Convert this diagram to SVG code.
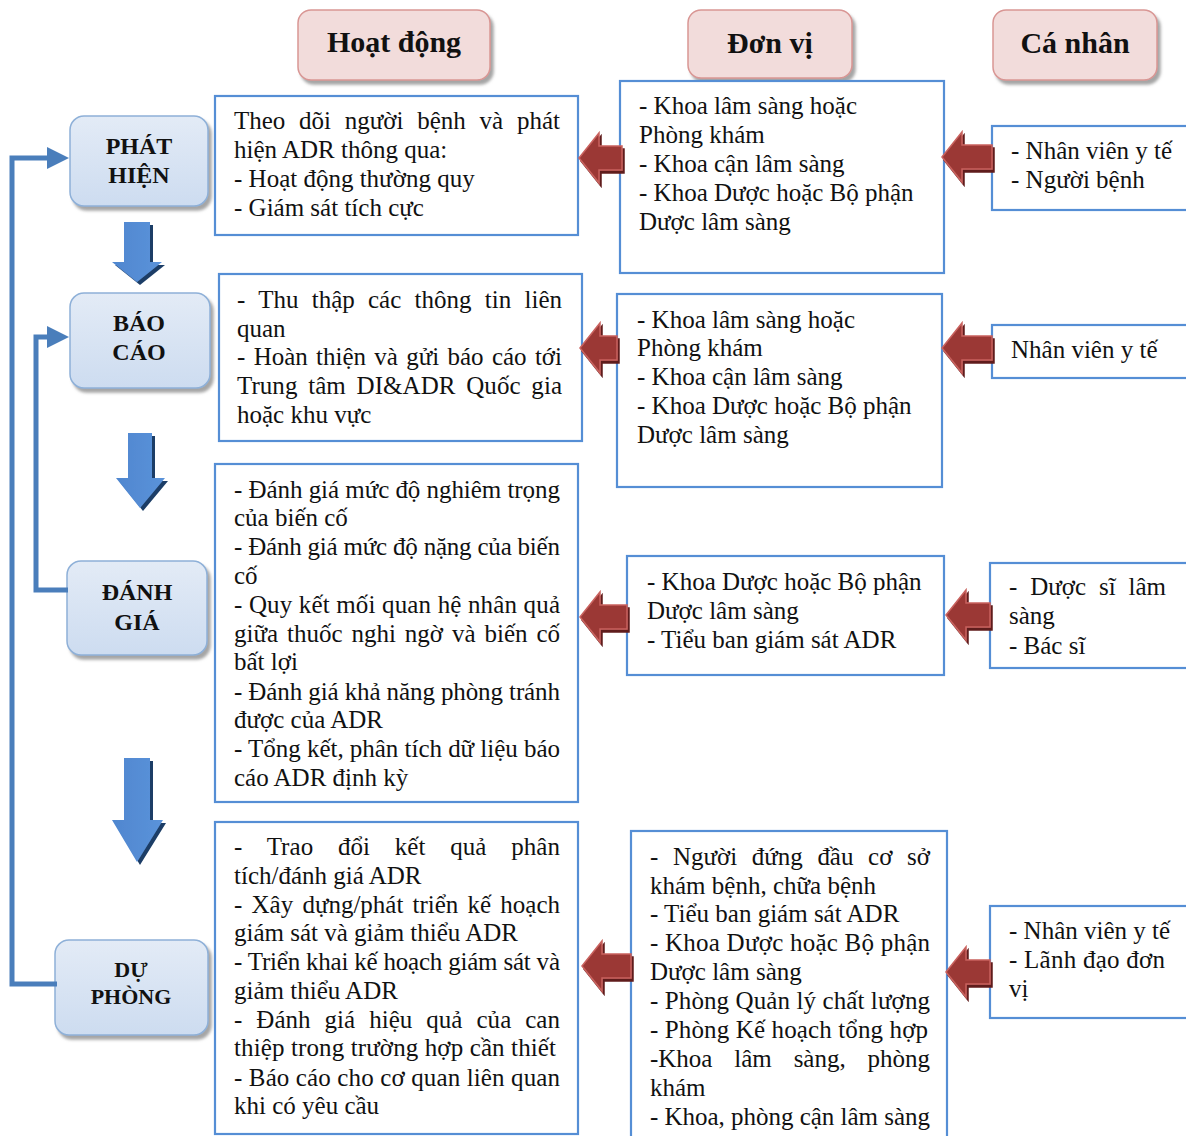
<svg xmlns="http://www.w3.org/2000/svg" width="1186" height="1136" viewBox="0 0 1186 1136">
<defs>
<style>
.t{font-family:"Liberation Serif","Times New Roman",serif;font-size:25px;fill:#111}
.hd{font-family:"Liberation Serif","Times New Roman",serif;font-size:30px;font-weight:bold;fill:#111;text-anchor:middle}
.st{font-family:"Liberation Serif","Times New Roman",serif;font-size:24px;font-weight:bold;fill:#111;text-anchor:middle}
.box{fill:#ffffff;stroke:#558ed5;stroke-width:2.2}
.head{fill:#f2dcdb;stroke:#d99694;stroke-width:1.5}
.stage{fill:url(#gStage);stroke:#8eb0d8;stroke-width:1.5}
.red{fill:#9b3936;stroke:#c9625e;stroke-width:1.5}
.blue{fill:url(#gBlue)}
.fb{fill:none;stroke:#4a7ebb;stroke-width:5}
</style>
<linearGradient id="gStage" x1="0" y1="0" x2="0" y2="1">
<stop offset="0" stop-color="#e3ebf6"/>
<stop offset="1" stop-color="#cddcf0"/>
</linearGradient>
<linearGradient id="gBlue" x1="0" y1="0" x2="1" y2="0">
<stop offset="0" stop-color="#4f86cf"/>
<stop offset="1" stop-color="#5b93da"/>
</linearGradient>
<filter id="sh" x="-10%" y="-10%" width="125%" height="130%">
<feDropShadow dx="3" dy="4" stdDeviation="1.5" flood-color="#7f7f7f" flood-opacity="0.7"/>
</filter>
<filter id="shR" x="-10%" y="-10%" width="130%" height="130%">
<feDropShadow dx="2" dy="3" stdDeviation="0.4" flood-color="#5e1e1c" flood-opacity="1"/>
</filter>
<filter id="shB" x="-10%" y="-10%" width="130%" height="130%">
<feDropShadow dx="3" dy="3" stdDeviation="0.4" flood-color="#1f3c66" flood-opacity="1"/>
</filter>
<marker id="ah" viewBox="0 0 10 10" refX="0" refY="5" markerWidth="22" markerHeight="24" markerUnits="userSpaceOnUse" orient="auto">
<path d="M0,0 L10,5 L0,10 Z" fill="#4a7ebb"/>
</marker>
</defs>
<rect width="1186" height="1136" fill="#ffffff"/>

<!-- headers -->
<g id="hdr-hoatdong"><rect class="head" x="298" y="10" width="192" height="70" rx="13" filter="url(#sh)"/><text class="hd" x="394" y="52">Hoạt động</text></g>
<g id="hdr-donvi"><rect class="head" x="688" y="10" width="164" height="68" rx="13" filter="url(#sh)"/><text class="hd" x="770" y="53">Đơn vị</text></g>
<g id="hdr-canhan"><rect class="head" x="993" y="10" width="164" height="70" rx="13" filter="url(#sh)"/><text class="hd" x="1075" y="53">Cá nhân</text></g>

<!-- stage nodes -->
<g id="stage-phathien"><rect class="stage" x="70" y="116" width="138" height="90" rx="14" filter="url(#sh)"/><text class="st" x="139" y="154">PHÁT</text><text class="st" x="139" y="183">HIỆN</text></g>
<g id="stage-baocao"><rect class="stage" x="70" y="293" width="140" height="95" rx="14" filter="url(#sh)"/><text class="st" x="139" y="331">BÁO</text><text class="st" x="139" y="360">CÁO</text></g>
<g id="stage-danhgia"><rect class="stage" x="67" y="561" width="140" height="94" rx="14" filter="url(#sh)"/><text class="st" x="137" y="600">ĐÁNH</text><text class="st" x="137" y="630">GIÁ</text></g>
<g id="stage-duphong"><rect class="stage" x="55" y="940" width="153" height="95" rx="14" filter="url(#sh)"/><text class="st" x="131" y="977" style="font-size:22px">DỰ</text><text class="st" x="131" y="1004" style="font-size:22px">PHÒNG</text></g>

<!-- activity boxes -->
<g id="act-1"><rect class="box" x="215" y="96" width="363" height="139"/>
<text class="t" x="234" y="129" style="word-spacing:7.6px" textLength="326" lengthAdjust="spacing">Theo dõi người bệnh và phát</text>
<text class="t" x="234" y="158">hiện ADR thông qua:</text>
<text class="t" x="234" y="187">- Hoạt động thường quy</text>
<text class="t" x="234" y="216">- Giám sát tích cực</text></g>
<g id="act-2"><rect class="box" x="219" y="274" width="363" height="167"/>
<text class="t" x="237" y="308" style="word-spacing:7px" textLength="325" lengthAdjust="spacing">- Thu thập các thông tin liên</text>
<text class="t" x="237" y="337">quan</text>
<text class="t" x="237" y="365" style="word-spacing:2.1px" textLength="325" lengthAdjust="spacing">- Hoàn thiện và gửi báo cáo tới</text>
<text class="t" x="237" y="394" style="word-spacing:4.5px" textLength="325" lengthAdjust="spacing">Trung tâm DI&amp;ADR Quốc gia</text>
<text class="t" x="237" y="423">hoặc khu vực</text></g>
<g id="act-3"><rect class="box" x="215" y="464" width="363" height="338"/>
<text class="t" x="234" y="498" textLength="326" lengthAdjust="spacing">- Đánh giá mức độ nghiêm trọng</text>
<text class="t" x="234" y="526">của biến cố</text>
<text class="t" x="234" y="555" textLength="326" lengthAdjust="spacing">- Đánh giá mức độ nặng của biến</text>
<text class="t" x="234" y="584">cố</text>
<text class="t" x="234" y="613" textLength="326" lengthAdjust="spacing">- Quy kết mối quan hệ nhân quả</text>
<text class="t" x="234" y="642" style="word-spacing:2.7px" textLength="326" lengthAdjust="spacing">giữa thuốc nghi ngờ và biến cố</text>
<text class="t" x="234" y="670">bất lợi</text>
<text class="t" x="234" y="700" textLength="326" lengthAdjust="spacing">- Đánh giá khả năng phòng tránh</text>
<text class="t" x="234" y="728">được của ADR</text>
<text class="t" x="234" y="757" textLength="326" lengthAdjust="spacing">- Tổng kết, phân tích dữ liệu báo</text>
<text class="t" x="234" y="786">cáo ADR định kỳ</text></g>
<g id="act-4"><rect class="box" x="215" y="822" width="363" height="312"/>
<text class="t" x="234" y="855" style="word-spacing:18.4px" textLength="326" lengthAdjust="spacing">- Trao đổi kết quả phân</text>
<text class="t" x="234" y="884">tích/đánh giá ADR</text>
<text class="t" x="234" y="913" style="word-spacing:3px" textLength="326" lengthAdjust="spacing">- Xây dựng/phát triển kế hoạch</text>
<text class="t" x="234" y="941">giám sát và giảm thiểu ADR</text>
<text class="t" x="234" y="970" textLength="326" lengthAdjust="spacing">- Triển khai kế hoạch giám sát và</text>
<text class="t" x="234" y="999">giảm thiểu ADR</text>
<text class="t" x="234" y="1028" style="word-spacing:7.7px" textLength="326" lengthAdjust="spacing">- Đánh giá hiệu quả của can</text>
<text class="t" x="234" y="1056" textLength="322" lengthAdjust="spacing">thiệp trong trường hợp cần thiết</text>
<text class="t" x="234" y="1086" textLength="326" lengthAdjust="spacing">- Báo cáo cho cơ quan liên quan</text>
<text class="t" x="234" y="1114">khi có yêu cầu</text></g>

<!-- unit boxes -->
<g id="unit-1"><rect class="box" x="620" y="81" width="324" height="192"/>
<text class="t" x="639" y="114">- Khoa lâm sàng hoặc</text>
<text class="t" x="639" y="143">Phòng khám</text>
<text class="t" x="639" y="172">- Khoa cận lâm sàng</text>
<text class="t" x="639" y="201">- Khoa Dược hoặc Bộ phận</text>
<text class="t" x="639" y="230">Dược lâm sàng</text></g>
<g id="unit-2"><rect class="box" x="617" y="294" width="325" height="193"/>
<text class="t" x="637" y="328">- Khoa lâm sàng hoặc</text>
<text class="t" x="637" y="356">Phòng khám</text>
<text class="t" x="637" y="385">- Khoa cận lâm sàng</text>
<text class="t" x="637" y="414">- Khoa Dược hoặc Bộ phận</text>
<text class="t" x="637" y="443">Dược lâm sàng</text></g>
<g id="unit-3"><rect class="box" x="627" y="556" width="317" height="119"/>
<text class="t" x="647" y="590">- Khoa Dược hoặc Bộ phận</text>
<text class="t" x="647" y="619">Dược lâm sàng</text>
<text class="t" x="647" y="648">- Tiểu ban giám sát ADR</text></g>
<g id="unit-4"><rect class="box" x="631" y="831" width="316" height="310"/>
<text class="t" x="650" y="865" style="word-spacing:8.6px" textLength="280" lengthAdjust="spacing">- Người đứng đầu cơ sở</text>
<text class="t" x="650" y="894">khám bệnh, chữa bệnh</text>
<text class="t" x="650" y="922">- Tiểu ban giám sát ADR</text>
<text class="t" x="650" y="951" textLength="280" lengthAdjust="spacing">- Khoa Dược hoặc Bộ phận</text>
<text class="t" x="650" y="980">Dược lâm sàng</text>
<text class="t" x="650" y="1009" textLength="280" lengthAdjust="spacing">- Phòng Quản lý chất lượng</text>
<text class="t" x="650" y="1038" textLength="278" lengthAdjust="spacing">- Phòng Kế hoạch tổng hợp</text>
<text class="t" x="650" y="1067" style="word-spacing:15.6px" textLength="280" lengthAdjust="spacing">-Khoa lâm sàng, phòng</text>
<text class="t" x="650" y="1096">khám</text>
<text class="t" x="650" y="1125" textLength="280" lengthAdjust="spacing">- Khoa, phòng cận lâm sàng</text></g>

<!-- person boxes -->
<g id="person-1"><rect class="box" x="992" y="126" width="196" height="84"/>
<text class="t" x="1011" y="159">- Nhân viên y tế</text>
<text class="t" x="1011" y="188">- Người bệnh</text></g>
<g id="person-2"><rect class="box" x="992" y="325" width="196" height="53"/>
<text class="t" x="1011" y="358">Nhân viên y tế</text></g>
<g id="person-3"><rect class="box" x="990" y="563" width="198" height="105"/>
<text class="t" x="1009" y="595" style="word-spacing:6.8px" textLength="157" lengthAdjust="spacing">- Dược sĩ lâm</text>
<text class="t" x="1009" y="624">sàng</text>
<text class="t" x="1009" y="654">- Bác sĩ</text></g>
<g id="person-4"><rect class="box" x="990" y="906" width="198" height="112"/>
<text class="t" x="1009" y="939">- Nhân viên y tế</text>
<text class="t" x="1009" y="968" textLength="156" lengthAdjust="spacing">- Lãnh đạo đơn</text>
<text class="t" x="1009" y="997">vị</text></g>

<!-- connectors -->
<g id="connectors">
<g id="stage-arrows" filter="url(#shB)">
<path class="blue" d="M124,222 L150,222 L150,262 L162,262 L137,282 L112,262 L124,262 Z"/>
<path class="blue" d="M128,433 L152,433 L152,478 L165,478 L140,508 L116,478 L128,478 Z"/>
<path class="blue" d="M124,758 L150,758 L150,820 L163,820 L137,862 L112,820 L124,820 Z"/>
</g>
<polyline class="fb" points="57,984 12,984 12,158 47,158" marker-end="url(#ah)"/>
<polyline class="fb" points="68,590 36,590 36,337 47,337" marker-end="url(#ah)"/>
<g id="red-arrows" filter="url(#shR)">
<path class="red" d="M579,158 L599,133 L599,146 L622,146 L622,170 L599,170 L599,183 Z"/>
<path class="red" d="M942,157 L962,132 L962,145 L992,145 L992,169 L962,169 L962,182 Z"/>
<path class="red" d="M580,348 L600,323 L600,336 L617,336 L617,360 L600,360 L600,373 Z"/>
<path class="red" d="M942,348 L962,323 L962,336 L992,336 L992,360 L962,360 L962,373 Z"/>
<path class="red" d="M580,617 L600,592 L600,605 L627,605 L627,629 L600,629 L600,642 Z"/>
<path class="red" d="M946,615 L966,590 L966,603 L990,603 L990,627 L966,627 L966,640 Z"/>
<path class="red" d="M582,966 L602,941 L602,954 L631,954 L631,978 L602,978 L602,991 Z"/>
<path class="red" d="M946,972 L966,947 L966,960 L990,960 L990,984 L966,984 L966,997 Z"/>
</g>
</g>
</svg>
